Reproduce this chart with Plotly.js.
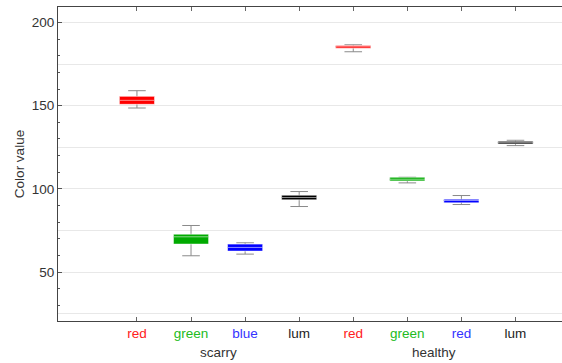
<!DOCTYPE html>
<html>
<head>
<meta charset="utf-8">
<script src="https://cdn.plot.ly/plotly-3.0.1.min.js"></script>
<style>html,body{margin:0;padding:0;background:#fff;}#chart{width:562px;height:363px;}</style>
</head>
<body>
<div id="chart"></div>
<script>
// Data
var categories = ['red', 'green', 'blue', 'lum', 'red', 'green', 'red', 'lum'];
var groups = ['scarry', 'healthy'];
var boxColors = ['#ff0000', '#00aa00', '#0000ff', '#000000', '#ff0000', '#00aa00', '#0000ff', '#000000'];
var labelColors = ['#ff2020', '#22bb22', '#3333ff', '#222222', '#ff2020', '#22bb22', '#3333ff', '#222222'];
var upperFence = [159.0, 78.0, 67.6, 98.4, 186.6, 107.0, 96.0, 129.2];
var q3 = [155.6, 72.8, 66.8, 96.2, 186.2, 107.0, 93.8, 128.6];
var median = [153.2, 71.2, 64.8, 94.8, 185.4, 105.8, 93.0, 127.8];
var q1 = [150.8, 66.8, 62.6, 93.4, 184.5, 104.8, 91.6, 127.0];
var lowerFence = [148.6, 59.8, 60.8, 89.4, 182.4, 103.6, 90.6, 126.0];

var pos = categories.map(function (_, i) { return i; });
var font = 'Liberation Sans, Arial, sans-serif';

var traces = [];
// invisible trace so the 25-step grid axis gets drawn
traces.push({type: 'scatter', x: [], y: [], yaxis: 'y2', hoverinfo: 'skip', showlegend: false});
// grey whiskers with caps
traces.push({
  type: 'box',
  x: pos,
  q1: median, median: median, q3: median,
  lowerfence: lowerFence, upperfence: upperFence,
  width: 0.65,
  whiskerwidth: 0.5,
  line: {color: '#8a8a8a', width: 1},
  fillcolor: 'rgba(0,0,0,0)',
  boxpoints: false,
  hoverinfo: 'skip',
  showlegend: false
});
// coloured boxes with white median
pos.forEach(function (p, i) {
  traces.push({
    type: 'box',
    x: [p],
    q1: [q1[i]], median: [median[i]], q3: [q3[i]],
    lowerfence: [q1[i]], upperfence: [q3[i]],
    width: 0.65,
    whiskerwidth: 0,
    line: {color: 'rgba(255,255,255,0.55)', width: 1},
    fillcolor: boxColors[i],
    boxpoints: false,
    hoverinfo: 'skip',
    showlegend: false
  });
});

var ticktext = categories.map(function (c, i) {
  return '<span style="color:' + labelColors[i] + '">' + c + '</span>';
});

var layout = {
  width: 562, height: 363,
  margin: {l: 58, r: 0, t: 7, b: 42},
  paper_bgcolor: '#ffffff',
  plot_bgcolor: '#ffffff',
  font: {family: font, size: 13.5, color: '#333'},
  boxmode: 'overlay',
  showlegend: false,
  xaxis: {
    range: [-1.46, 7.86],
    tickvals: pos,
    ticktext: ticktext,
    ticks: 'inside', ticklen: 4, tickcolor: '#666',
    showline: true, linecolor: '#444', linewidth: 1,
    mirror: 'ticks',
    showgrid: false, zeroline: false,
    tickfont: {family: font, size: 13.5}
  },
  yaxis: {
    range: [20.6, 209.3],
    tickvals: [50, 100, 150, 200],
    ticks: 'inside', ticklen: 4, tickcolor: '#555',
    minor: {dtick: 10, ticks: 'inside', ticklen: 2, tickcolor: '#555', showgrid: false},
    showline: true, linecolor: '#444', linewidth: 1,
    showgrid: false, zeroline: false,
    title: {text: 'Color value', font: {family: font, size: 13.5, color: '#333'}, standoff: 4},
    tickfont: {family: font, size: 13.5, color: '#333'}
  },
  yaxis2: {
    overlaying: 'y',
    range: [20.6, 209.3],
    dtick: 25, tick0: 0,
    showgrid: true, gridcolor: '#e8e8e8', gridwidth: 1,
    showticklabels: false, ticks: '', zeroline: false, showline: false
  },
  annotations: [
    {text: groups[0], x: 1.5, xref: 'x', y: 0, yref: 'paper', yanchor: 'middle', yshift: -31, showarrow: false, font: {family: font, size: 13.5, color: '#333'}},
    {text: groups[1], x: 5.5, xref: 'x', y: 0, yref: 'paper', yanchor: 'middle', yshift: -31, showarrow: false, font: {family: font, size: 13.5, color: '#333'}}
  ]
};

Plotly.newPlot('chart', traces, layout, {staticPlot: true, displayModeBar: false});
</script>
</body>
</html>
